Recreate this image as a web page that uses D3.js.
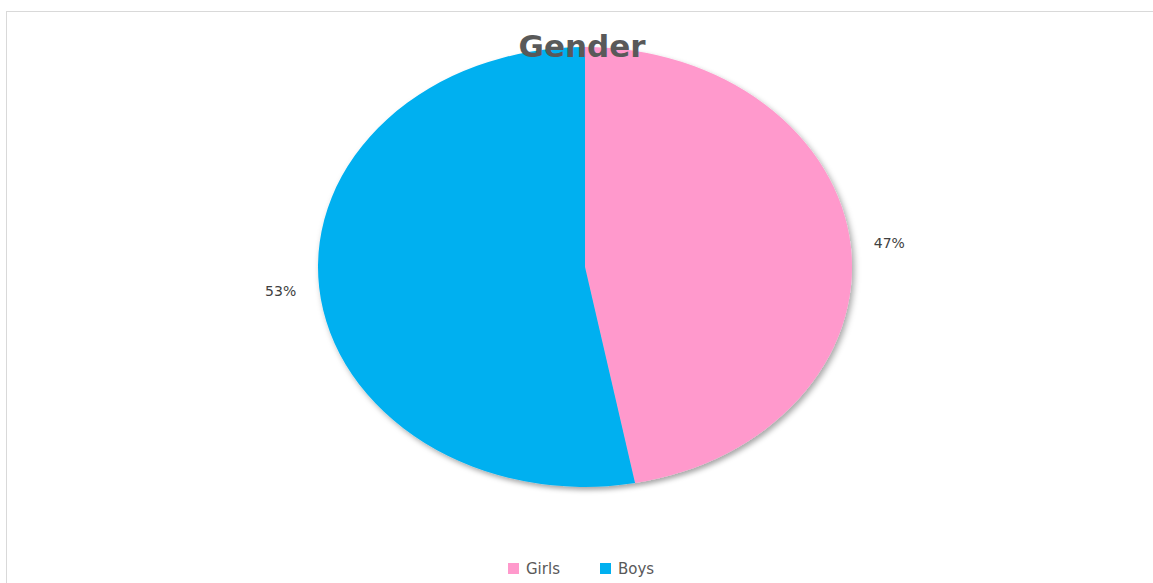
<!DOCTYPE html>
<html>
<head>
<meta charset="utf-8">
<script src="https://cdn.jsdelivr.net/npm/d3@7"></script>
<style>
  body { margin: 0; background: #fff; }
  svg { display: block; }
</style>
</head>
<body>
<svg id="chart" width="1153" height="583"></svg>
<script>
// данные диаграммы
const categories = ["Girls", "Boys"];
const shares = [47, 53];
const colors = ["#FF99CC", "#00B0F0"];

const svg = d3.select("svg#chart");

const attr_area = {
    width: 1153,
    height: 583,
    cx: 585,
    cy: 267,
    rx: 267,
    ry: 220
};

// рамка области диаграммы
svg.append("rect")
    .attr("x", 6.5)
    .attr("y", 11.5)
    .attr("width", attr_area.width)
    .attr("height", attr_area.height)
    .style("fill", "#fff")
    .style("stroke", "#d9d9d9")
    .style("stroke-width", 1);

// тень под кругом
const defs = svg.append("defs");
const filter = defs.append("filter")
    .attr("id", "shadow")
    .attr("x", "-20%").attr("y", "-20%")
    .attr("width", "140%").attr("height", "140%");
filter.append("feDropShadow")
    .attr("dx", 2)
    .attr("dy", 3)
    .attr("stdDeviation", 2.5)
    .attr("flood-color", "#000")
    .attr("flood-opacity", 0.35);

const data = categories.map((c, i) => ({ name: c, value: shares[i], color: colors[i] }));

const pie = d3.pie()
    .sort(null)
    .value(d => d.value);

const R = attr_area.ry;
const arc = d3.arc().innerRadius(0).outerRadius(R);

// эллипс: круг, растянутый по горизонтали
const g = svg.append("g")
    .attr("transform", `translate(${attr_area.cx}, ${attr_area.cy}) scale(${attr_area.rx / attr_area.ry}, 1)`);

g.append("g")
    .style("filter", "url(#shadow)")
    .selectAll("path")
    .data(pie(data))
    .enter()
    .append("path")
    .attr("d", arc)
    .style("fill", d => d.data.color);

// подписи процентов
const labelArc = d3.arc().innerRadius(R * 1.145).outerRadius(R * 1.145);
const arcs = pie(data);
svg.selectAll(".pct")
    .data(arcs)
    .enter()
    .append("text")
    .attr("class", "pct")
    .attr("x", d => attr_area.cx + labelArc.centroid(d)[0] * attr_area.rx / attr_area.ry)
    .attr("y", d => attr_area.cy + labelArc.centroid(d)[1])
    .attr("dy", "0.35em")
    .attr("text-anchor", "middle")
    .style("font-family", "'DejaVu Sans', sans-serif")
    .style("font-size", "14px")
    .style("fill", "#404040")
    .text(d => d.data.value + "%");

// заголовок
svg.append("text")
    .attr("x", 582)
    .attr("y", 57)
    .attr("text-anchor", "middle")
    .style("font-family", "'DejaVu Sans', sans-serif")
    .style("font-weight", "bold")
    .style("font-size", "31px")
    .style("fill", "#595959")
    .text("Gender");

// легенда
const legend = svg.append("g")
    .attr("transform", "translate(508, 569)");

const items = legend.selectAll("g")
    .data(data)
    .enter()
    .append("g")
    .attr("transform", (d, i) => `translate(${i * 92}, 0)`);

items.append("rect")
    .attr("x", 0)
    .attr("y", -6)
    .attr("width", 11)
    .attr("height", 11)
    .style("fill", d => d.color);

items.append("text")
    .attr("x", 18)
    .attr("y", 0)
    .attr("dy", "0.35em")
    .style("font-family", "'DejaVu Sans', sans-serif")
    .style("font-size", "15px")
    .style("fill", "#595959")
    .text(d => d.name);
</script>
</body>
</html>
